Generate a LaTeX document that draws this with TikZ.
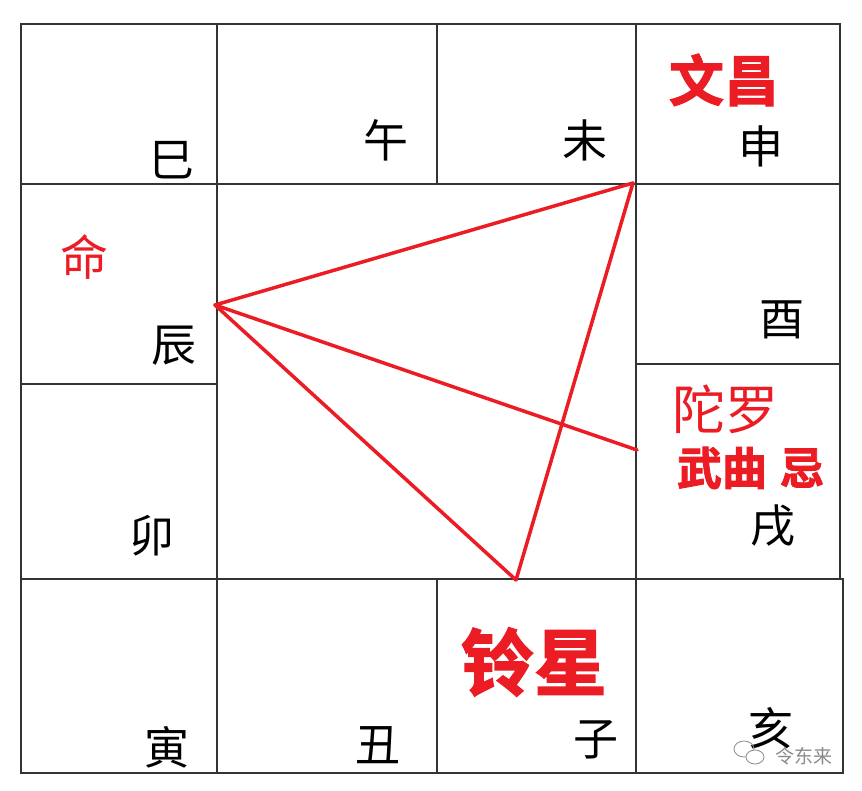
\documentclass[tikz,border=0pt]{standalone}
\usepackage{fontspec}
\setmainfont{Noto Sans CJK SC}
\newfontfamily\cjk{Noto Sans CJK SC}
\newfontfamily\cjkb[FakeBold=2]{Noto Sans CJK SC Bold}
\definecolor{gridc}{HTML}{333333}
\definecolor{redc}{HTML}{EC1C24}
\definecolor{wmc}{HTML}{8A8A8A}
\begin{document}
\begin{tikzpicture}[x=1pt,y=-1pt,
  gridline/.style={draw=gridc,line width=2pt},
  redline/.style={draw=redc,line width=3.5pt,line cap=round},
  branch/.style={inner sep=0pt,anchor=center,font=\cjk\fontsize{45}{45}\selectfont,text=black},
  redlab/.style={inner sep=0pt,anchor=center,text=redc},
]
\fill[white] (0,0) rectangle (862,791);
\useasboundingbox (0,0) rectangle (862,791);
% grid
\draw[gridline] (21,24) rectangle (840,579);
\draw[gridline] (21,579) -- (21,773) -- (843,773) -- (843,579) -- (21,579);
\draw[gridline] (217,24) -- (217,773);
\draw[gridline] (636,24) -- (636,773);
\draw[gridline] (437,24) -- (437,184);
\draw[gridline] (437,579) -- (437,773);
\draw[gridline] (21,184) -- (840,184);
\draw[gridline] (21,384) -- (217,384);
\draw[gridline] (636,364) -- (840,364);
% branch labels
\node[branch] (si) at (172,160) {巳};
\node[branch] (wu) at (386,140) {午};
\node[branch] (wei) at (585,140) {未};
\node[branch] (shen) at (761,146) {申};
\node[branch] (chen) at (174,346) {辰};
\node[branch] (you) at (782,320) {酉};
\node[branch] (mao) at (152,536) {卯};
\node[branch] (xu) at (773,526) {戌};
\node[branch] (yin) at (167,747) {寅};
\node[branch] (chou) at (378,745) {丑};
\node[branch] (zi) at (596,740) {子};
\node[branch] (hai) at (771,728) {亥};
% red labels
\node[redlab,font=\cjkb\fontsize{55}{55}\selectfont] (wenchang) at (724,80) {文昌};
\node[redlab,font=\cjk\fontsize{48}{48}\selectfont] (ming) at (84,257) {命};
\node[redlab,font=\cjk\fontsize{53}{53}\selectfont] (tuoluo) at (725,409) {陀罗};
\node[redlab,font=\cjkb\fontsize{45}{45}\selectfont] (wuqu) at (722,468) {武曲};
\node[redlab,font=\cjkb\fontsize{44}{44}\selectfont] (ji) at (802,468) {忌};
\node[redlab,font=\cjkb\fontsize{73}{73}\selectfont] (lingxing) at (534,662) {铃星};
% red triangle
\coordinate (pchen) at (215,305);
\coordinate (pshen) at (633,183);
\coordinate (pxu) at (637,450);
\coordinate (pzi) at (516,580);
\draw[redline] (pchen) -- (pshen);
\draw[redline] (pchen) -- (pxu);
\draw[redline] (pchen) -- (pzi);
\draw[redline] (pshen) -- (pzi);
% watermark
\draw[wmc,line width=0.8pt] (744,749) ellipse (10 and 8);
\draw[wmc,line width=0.8pt,fill=white] (755,757) ellipse (9 and 7);
\node[inner sep=0pt,anchor=center,text=wmc,font=\cjk\fontsize{19}{19}\selectfont] (wm) at (804,756) {令东来};
\end{tikzpicture}
\end{document}
